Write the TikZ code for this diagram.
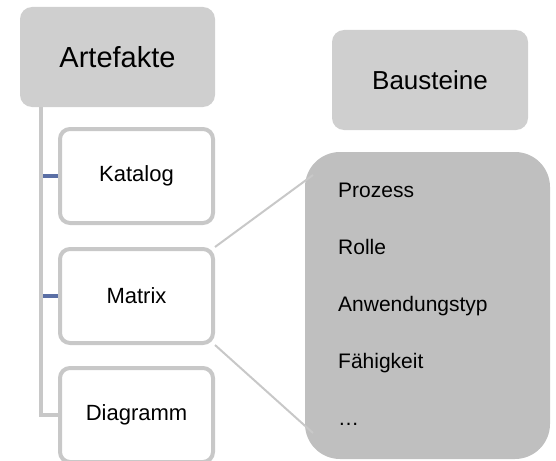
\documentclass[tikz,border=0pt]{standalone}
\usepackage{fontspec}
\setmainfont{Liberation Sans}
\usetikzlibrary{calc,positioning}

\definecolor{kopfgrau}{HTML}{CFCFCF}
\definecolor{listengrau}{HTML}{BFBFBF}
\definecolor{randgrau}{HTML}{C8C8C8}
\definecolor{astblau}{HTML}{5B6FA5}

\begin{document}
\begin{tikzpicture}[x=1pt,y=-1pt]
		\tikzset{
			kopf/.style={fill=kopfgrau, rounded corners=12pt, minimum width=196pt, minimum height=100pt, inner sep=0pt},
			kind/.style={fill=white, draw=randgrau, line width=4pt, rounded corners=10pt, minimum width=153pt, minimum height=94pt, inner sep=0pt, font=\fontsize{22}{26}\selectfont},
			stamm/.style={draw=randgrau, line width=4pt},
			ast/.style={draw=astblau, line width=4.5pt},
			bezug/.style={draw=randgrau, line width=2pt},
			eintrag/.style={anchor=base west, inner sep=0pt, font=\fontsize{21}{25}\selectfont}
		}
		\clip (0,0) rectangle (556,460);
		\useasboundingbox (0,0) rectangle (556,460);

		% LEFT: Artefakte with its children
		\node[kopf, minimum width=195pt, font=\fontsize{29}{34}\selectfont] (artefakte) at (117.5,57) {Artefakte};
		\node[kind] (katalog) at (136.5,176) {Katalog};
		\node[kind] (matrix) at (136.5,296) {Matrix};
		\node[kind] (diagramm) at (136.5,415) {Diagramm};

		% Tree line
		\coordinate (wurzel) at (41,107);
		\draw[stamm] (wurzel) |- (diagramm.west);
		\draw[ast] ($(wurzel |- katalog.west)+(2,0)$) -- (katalog.west);
		\draw[ast] ($(wurzel |- matrix.west)+(2,0)$) -- (matrix.west);

		% RIGHT: Bausteine
		\node[kopf, font=\fontsize{26}{30}\selectfont] (bausteine) at (430,80) {Bausteine};

		% List of building blocks
		\node[fill=listengrau, rounded corners=35pt, minimum width=245pt, minimum height=307pt, inner sep=0pt] (liste) at (427.5,305.5) {};
		\foreach \name/\txt [count=\i from 0] in {prozess/Prozess, rolle/Rolle, typ/Anwendungstyp, faehigkeit/F\"ahigkeit, rest/\dots}
			\node[eintrag] (\name) at (338,{197+57*\i}) {\txt};

		% Matrix points to the list
		\coordinate (oben) at (313,175);
		\coordinate (unten) at (313,433);
		\draw[bezug] (matrix.north east) -- (oben);
		\draw[bezug] (matrix.south east) -- (unten);
\end{tikzpicture}
\end{document}
